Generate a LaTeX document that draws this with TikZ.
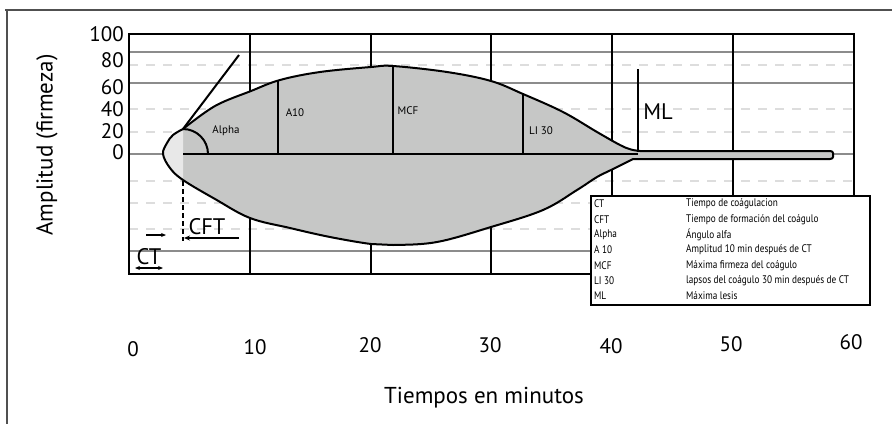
\documentclass[tikz,border=0pt]{standalone}
\usepackage{fontspec}
\setmainfont{PT Sans}
\usetikzlibrary{arrows.meta}
\definecolor{clotdark}{HTML}{C6C7C6}
\definecolor{clotlight}{HTML}{E8E8E8}
\definecolor{gridgray}{HTML}{8C8C8C}
\definecolor{dashgray}{HTML}{DDDDDD}
\definecolor{framegray}{HTML}{505050}
\begin{document}
\begin{tikzpicture}[x=1pt,y=-1pt,
  gridsolid/.style={draw=gridgray,line width=1.8pt},
  griddash/.style={draw=dashgray,line width=2.4pt,dash pattern=on 9pt off 8pt},
  blk/.style={draw=black,line width=2pt},
  thinblk/.style={draw=black,line width=1.4pt},
  lbl/.style={inner sep=0pt,font=\fontsize{11}{13}\selectfont},
  big/.style={inner sep=0pt,font=\fontsize{22.5}{26}\selectfont},
  ylab/.style={inner sep=0pt,anchor=east,font=\fontsize{21}{24}\selectfont},
  xlab/.style={inner sep=0pt,font=\fontsize{21}{24}\selectfont},
  axtitle/.style={inner sep=0pt,font=\fontsize{23}{26}\selectfont},
  leg/.style={inner sep=0pt,anchor=west,xscale=0.84,font=\fontsize{11}{13}\selectfont},
  tip/.style={-{Stealth[length=6pt,width=5pt]}}
]
\useasboundingbox (0,0) rectangle (892,424);
\fill[white] (0,0) rectangle (892,424);
% outer frame
\draw[framegray,line width=1.2pt] (5,10) -- (892,10);
\draw[framegray,line width=1.2pt] (7,10) -- (7,424);
% grid
\foreach \y in {52,83,154,251} \draw[gridsolid] (129,\y) -- (854,\y);
\foreach \y in {65,109,132,181,203,229} \draw[griddash] (129,\y) -- (854,\y);
\foreach \k in {1,...,5} \draw[blk] ({129+120.83*\k},34) -- ({129+120.83*\k},274);
\draw[blk,line width=2.4pt] (129,34) rectangle (854,274);
% clot outline
\def\clotpath{(183,129) -- plot[smooth,tension=0.6] coordinates {(183,129) (215,106) (251,91) (280,80) (320,72) (371,67) (393,66) (447,72) (491,81) (523,94) (563,112) (597,132) (620,145) (631,149.5) (640,151)} -- (830,151) .. controls (832,151) and (833,152) .. (833,153) -- (833,157) .. controls (833,158) and (832,159) .. (830,159) -- (633,159) -- plot[smooth,tension=0.6] coordinates {(633,159) (611,170) (597,177) (577,190) (543,210) (491,227) (437,242) (393,245) (371,244) (330,237) (290,228) (250,218) (215,199) (183,180) (170,168) (163,154) (167,143) (173,135) (183,129)} -- cycle}
\fill[clotdark] \clotpath;
\begin{scope}
  \clip (0,0) rectangle (183,424);
  \fill[clotlight] \clotpath;
\end{scope}
\begin{scope}
  \clip \clotpath;
  \draw[blk] (278,40) -- (278,154);
  \draw[blk] (393,40) -- (393,154);
  \draw[blk] (523,40) -- (523,154);
\end{scope}
\draw[blk] (183,153.5) -- (638,153.5);
\draw[blk,line join=round] \clotpath;
% alpha
\draw[blk] (183,129) .. controls (196.8,129) and (208,140.2) .. (208,154);
\draw[blk] (183,129) -- (239,55);
% ML
\draw[blk] (638,69) -- (638,152);
% CFT / CT
\draw[black,line width=1.2pt,dash pattern=on 5pt off 3pt] (183,181) -- (183,241);
\coordinate (cftR) at (239,238);
\coordinate (cftL) at (184,238);
\draw[thinblk,tip] (cftR) -- (cftL);
\coordinate (ctaL) at (146,235);
\coordinate (ctaR) at (166,235);
\draw[line width=1.2pt,-{Stealth[length=5pt,width=4pt]}] (ctaL) -- (ctaR);
\coordinate (ctbL) at (135,268);
\coordinate (ctbR) at (163,268);
\draw[line width=1.2pt,{Stealth[length=5pt,width=4pt]}-{Stealth[length=5pt,width=4pt]}] (ctbL) -- (ctbR);
% labels inside
\node[lbl] (alpha) at (226,131) {Alpha};
\node[lbl] (a10) at (295,113) {A10};
\node[lbl] (mcf) at (408,111) {MCF};
\node[lbl] (li30) at (541,131) {LI 30};
\node[big] (ml) at (658,112) {ML};
\node[big] (cft) at (207,227) {CFT};
\node[big] (ct) at (149,257) {CT};
% y labels
\node[ylab] (y100) at (124,34.5) {100};
\node[ylab] (y80) at (124,60) {80};
\node[ylab] (y60) at (124,87) {60};
\node[ylab] (y40) at (124,109) {40};
\node[ylab] (y20) at (124,131) {20};
\node[ylab] (y0) at (124,152.5) {0};
\node[axtitle,rotate=90] (ytitle) at (47,145) {Amplitud (firmeza)};
% x labels
\node[xlab] (x0) at (133,349) {0};
\node[xlab] (x10) at (255,347) {10};
\node[xlab] (x20) at (370,345) {20};
\node[xlab] (x30) at (490,345) {30};
\node[xlab] (x40) at (611,346) {40};
\node[xlab] (x50) at (731,344) {50};
\node[xlab] (x60) at (851,342) {60};
\node[axtitle] (xtitle) at (484,398) {Tiempos en minutos};
% legend
\node[draw=black,line width=2pt,fill=white,minimum width=279pt,minimum height=109pt,anchor=north west,inner sep=0pt] (legend) at (590,195) {};
\node[leg] (l1a) at (594,204) {CT};
\node[leg] (l1b) at (686,204) {Tiempo de coágulacion};
\node[leg] (l2a) at (594,219.3) {CFT};
\node[leg] (l2b) at (686,219.3) {Tiempo de formación del coágulo};
\node[leg] (l3a) at (594,234.6) {Alpha};
\node[leg] (l3b) at (686,234.6) {Ángulo alfa};
\node[leg] (l4a) at (594,249.9) {A 10};
\node[leg] (l4b) at (686,249.9) {Amplitud 10 min después de CT};
\node[leg] (l5a) at (594,265.2) {MCF};
\node[leg] (l5b) at (686,265.2) {Máxima firmeza del coágulo};
\node[leg] (l6a) at (594,280.5) {LI 30};
\node[leg] (l6b) at (686,280.5) {lapsos del coágulo 30 min después de CT};
\node[leg] (l7a) at (594,295.8) {ML};
\node[leg] (l7b) at (686,295.8) {Máxima lesis};
\end{tikzpicture}
\end{document}
